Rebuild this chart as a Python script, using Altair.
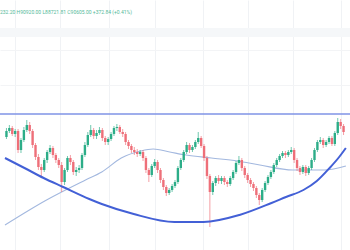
import altair as alt
import pandas as pd

# OHLC prices (thousands USD), one candle per period
opens = [105.3, 105.9, 106.2, 105.6, 105.9, 104.0, 105.0, 106.0, 106.5, 105.9,
         104.5, 103.3, 102.3, 102.0, 103.0, 103.8, 104.2, 103.5, 103.0, 102.5,
         100.8, 102.0, 103.2, 102.8, 101.8, 102.0, 102.2, 103.5, 104.5, 105.5,
         106.0, 105.4, 105.7, 106.0, 105.2, 104.8, 105.1, 105.6, 106.2, 106.3,
         105.8, 105.6, 104.8, 104.4, 104.0, 103.8, 103.6, 103.8, 103.2, 102.0,
         101.5, 102.4, 102.8, 102.0, 101.0, 100.3, 99.7, 100.0, 100.4, 100.8,
         102.2, 103.0, 103.8, 104.5, 104.0, 104.3, 104.8, 105.2, 104.4, 103.2,
         101.4, 99.8, 100.7, 101.2, 100.9, 101.2, 100.8, 100.6, 101.2, 101.8,
         102.7, 103.0, 102.2, 101.5, 101.0, 100.6, 100.2, 99.5, 99.0, 100.0,
         100.7, 101.3, 101.8, 102.5, 103.0, 103.4, 103.7, 103.5, 103.8, 104.0,
         103.0, 102.2, 101.8, 102.3, 101.7, 102.2, 103.0, 104.0, 104.8, 105.0,
         104.5, 104.8, 105.2, 104.6, 105.7, 106.8, 106.4]
closes = [105.9, 106.2, 105.6, 105.9, 104.0, 105.0, 106.0, 106.5, 105.9, 104.5,
          103.3, 102.3, 102.0, 103.0, 103.8, 104.2, 103.5, 103.0, 102.5, 100.8,
          102.0, 103.2, 102.8, 101.8, 102.0, 102.2, 103.5, 104.5, 105.5, 106.0,
          105.4, 105.7, 106.0, 105.2, 104.8, 105.1, 105.6, 106.2, 106.3, 105.8,
          105.6, 104.8, 104.4, 104.0, 103.8, 103.6, 103.8, 103.2, 102.0, 101.5,
          102.4, 102.8, 102.0, 101.0, 100.3, 99.7, 100.0, 100.4, 100.8, 102.2,
          103.0, 103.8, 104.5, 104.0, 104.3, 104.8, 105.2, 104.4, 103.2, 101.4,
          99.8, 100.7, 101.2, 100.9, 101.2, 100.8, 100.6, 101.2, 101.8, 102.7,
          103.0, 102.2, 101.5, 101.0, 100.6, 100.2, 99.5, 99.0, 100.0, 100.7,
          101.3, 101.8, 102.5, 103.0, 103.4, 103.7, 103.5, 103.8, 104.0, 103.0,
          102.2, 101.8, 102.3, 101.7, 102.2, 103.0, 104.0, 104.8, 105.0, 104.5,
          104.8, 105.2, 104.6, 105.7, 106.8, 106.4, 105.8]
highs = [106.2, 106.5, 106.4, 106.1, 106.1, 105.2, 106.3, 107.0, 106.8, 106.1,
         104.7, 103.6, 102.6, 103.2, 104.0, 104.5, 104.4, 103.7, 103.2, 102.8,
         102.2, 103.4, 103.5, 103.0, 102.3, 102.5, 103.7, 104.8, 105.8, 106.5,
         106.2, 106.0, 106.3, 106.2, 105.4, 105.3, 105.8, 106.4, 106.6, 106.5,
         106.1, 105.8, 105.0, 104.6, 104.3, 104.1, 104.0, 104.0, 103.4, 102.2,
         102.6, 103.1, 103.0, 102.2, 101.2, 100.5, 100.2, 100.6, 101.0, 102.4,
         103.2, 104.0, 104.8, 104.7, 104.5, 105.0, 105.8, 105.4, 104.6, 103.4,
         101.6, 100.9, 101.4, 101.5, 101.4, 101.4, 101.0, 101.4, 102.0, 102.9,
         103.4, 103.2, 102.4, 101.7, 101.2, 100.8, 100.4, 99.7, 100.2, 100.9,
         101.5, 102.0, 102.7, 103.2, 103.6, 103.9, 103.9, 104.0, 104.3, 104.2,
         103.2, 102.4, 102.5, 102.5, 102.4, 103.2, 104.2, 105.0, 105.3, 105.2,
         105.0, 105.4, 105.4, 105.9, 107.2, 107.1, 106.6]
lows = [105.1, 105.7, 105.4, 105.3, 103.7, 103.7, 104.8, 105.8, 105.6, 104.2,
        103.0, 102.0, 101.3, 101.8, 102.7, 103.6, 103.2, 102.7, 102.2, 99.8,
        100.5, 101.8, 102.5, 101.5, 101.4, 101.7, 102.0, 103.3, 104.3, 105.3,
        105.1, 105.1, 105.5, 104.9, 104.5, 104.5, 104.9, 105.4, 105.9, 105.6,
        105.3, 104.5, 104.1, 103.7, 103.5, 103.3, 103.4, 102.9, 101.7, 100.8,
        101.3, 102.2, 101.7, 100.7, 100.0, 99.4, 99.5, 99.8, 100.2, 100.6,
        102.0, 102.8, 103.6, 103.7, 103.8, 104.1, 104.6, 104.2, 102.9, 101.1,
        96.3, 99.5, 100.4, 100.6, 100.6, 100.5, 100.3, 100.4, 101.0, 101.6,
        102.5, 101.9, 101.2, 100.7, 100.3, 99.9, 99.2, 98.5, 98.8, 99.8,
        100.5, 101.1, 101.6, 102.3, 102.8, 103.2, 103.2, 103.3, 103.6, 102.7,
        101.9, 101.5, 101.6, 101.4, 101.5, 102.0, 102.8, 103.8, 104.6, 104.2,
        104.3, 104.6, 104.4, 104.4, 105.5, 106.1, 105.5]
periods = list(range(len(opens)))

# Moving average (light blue line)
ma_t = [-0.5, 13.8, 27.2, 32.8, 39.5, 46.2, 50.5, 56.2, 61.8, 70.5, 79.5, 87.2, 98.5, 109.5, 116.8]
ma_v = [96.5, 99.0, 101.0, 101.8, 103.2, 103.9, 104.1, 103.8, 103.5, 103.2, 102.9, 102.5, 102.0, 102.0, 102.4]

# Cup curve (dark blue)
cup_t = [-0.5, 6.2, 12.8, 19.5, 28.5, 32.8, 43.8, 57.8, 67.8, 80.2, 91.2, 96.2, 102.2, 106.8, 111.2, 114.5, 116.8]
cup_v = [103.2, 102.2, 101.2, 100.3, 99.1, 98.6, 97.6, 96.8, 96.8, 97.5, 98.7, 99.3, 100.0, 100.9, 102.2, 103.3, 104.2]

# Resistance level
resistance = [107.6]

header = ["232.20  H90920.00  L88721.81  C90605.00  +372.84 (+0.41%)"]
grid_t = [2.8, 18.5, 35.2, 51.2, 67.8, 83.2, 98.5, 115.2]
grid_p = [114.0, 110.5]

df = pd.DataFrame({"t": periods, "open": opens, "close": closes, "high": highs, "low": lows})
ma_df = pd.DataFrame({"t": ma_t, "v": ma_v})
cup_df = pd.DataFrame({"t": cup_t, "v": cup_v})
res_df = pd.DataFrame({"v": resistance})
hdr_df = pd.DataFrame({"txt": header})

xs = alt.Scale(domain=[-0.5, 116.5], nice=False, zero=False)
ys = alt.Scale(domain=[94, 119], nice=False, zero=False)
xax = alt.Axis(values=grid_t, grid=True, labels=False, ticks=False, domain=False,
               title=None, gridColor="#f0f2f5", gridWidth=1)
yax = alt.Axis(values=grid_p, grid=True, labels=False, ticks=False, domain=False,
               title=None, gridColor="#f3f4f6", gridWidth=1)

band = alt.Chart(hdr_df).mark_rect(color="#f5f7f9").encode(
    x=alt.value(0), x2=alt.value(350), y=alt.value(28), y2=alt.value(37))

text = alt.Chart(hdr_df).mark_text(align="left", baseline="middle", fontSize=5,
                                   font="Roboto", color="#54b99a").encode(
    x=alt.value(0), y=alt.value(12), text="txt:N")

ma = alt.Chart(ma_df).mark_line(color="#a3b8df", strokeWidth=1.1, interpolate="monotone").encode(
    x=alt.X("t:Q", scale=xs, axis=xax), y=alt.Y("v:Q", scale=ys, axis=yax))

color = alt.condition("datum.close >= datum.open", alt.value("#2cad88"), alt.value("#ee6f79"))

wick = alt.Chart(df).mark_rule(strokeWidth=0.8, opacity=0.85).encode(
    x=alt.X("t:Q", scale=xs, axis=xax),
    y=alt.Y("low:Q", scale=ys, axis=yax), y2="high:Q", color=color)

body = alt.Chart(df).mark_bar(size=2.4).encode(
    x=alt.X("t:Q", scale=xs, axis=xax),
    y=alt.Y("open:Q", scale=ys, axis=yax), y2="close:Q", color=color)

res = alt.Chart(res_df).mark_rule(color="#7f93e6", strokeWidth=1.5).encode(
    y=alt.Y("v:Q", scale=ys, axis=yax))

cup = alt.Chart(cup_df).mark_line(color="#4360d6", strokeWidth=2, interpolate="monotone").encode(
    x=alt.X("t:Q", scale=xs, axis=xax), y=alt.Y("v:Q", scale=ys, axis=yax))

chart = alt.layer(band, text, ma, wick, body, res, cup).properties(
    width=350, height=250, padding=0, autosize=alt.AutoSizeParams(type="none"),
    background="white"
).configure_view(stroke=None)

chart.save("out.html", embed_options={"renderer": "svg", "actions": False})
